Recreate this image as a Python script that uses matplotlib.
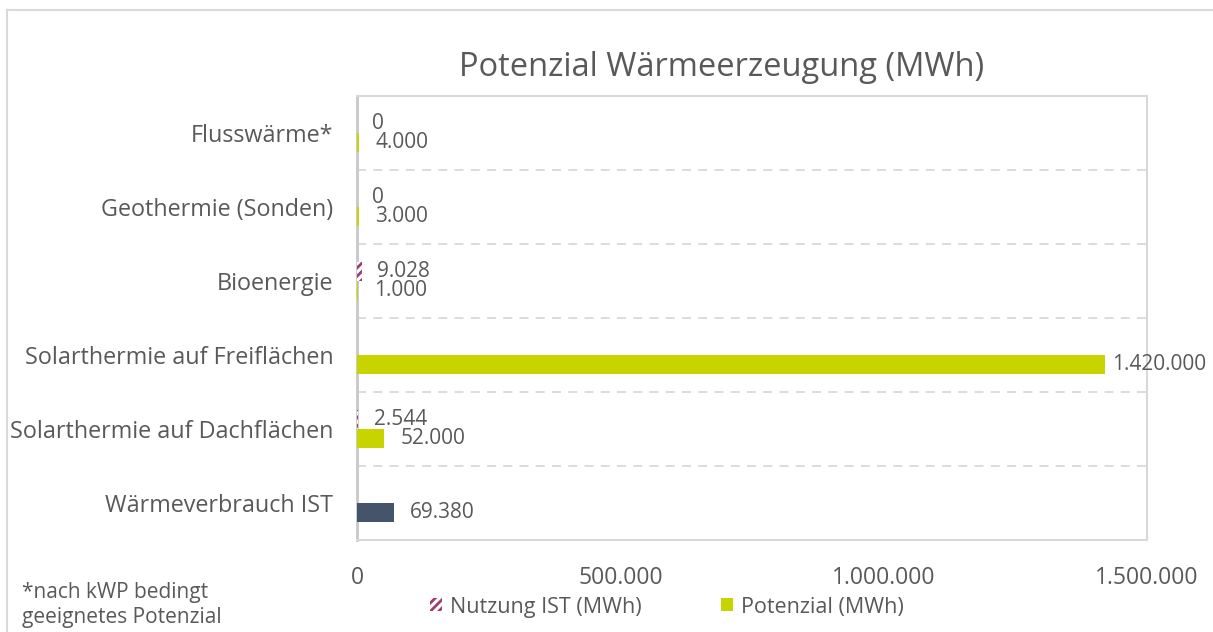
import numpy as np
import matplotlib
matplotlib.use("Agg")
import matplotlib.pyplot as plt
from matplotlib.patches import Patch
from matplotlib.lines import Line2D

plt.rcParams['font.family'] = ['Open Sans', 'DejaVu Sans']
plt.rcParams['hatch.linewidth'] = 2.0

# data (bottom to top)
categories = ["Wärmeverbrauch IST", "Solarthermie auf Dachflächen",
              "Solarthermie auf Freiflächen", "Bioenergie",
              "Geothermie (Sonden)", "Flusswärme*"]
nutzung = [np.nan, 2544, np.nan, 9028, 0, 0]
potenzial = [69380, 52000, 1420000, 1000, 3000, 4000]
xticks = [0, 500000, 1000000, 1500000]

green = '#C8D400'
navy = '#44546A'
purple = '#9E3D6F'
txt = '#595959'
grid = '#D9D9D9'


def fmt(v):
    return f"{v:,.0f}".replace(",", ".")


fig = plt.figure(figsize=(12.13, 6.32), dpi=100)
ax = fig.add_axes([357 / 1213, 92 / 632, 790 / 1213, 444 / 632])

y = np.arange(len(categories))
h = 0.26
off = 0.13

pot_colors = [navy] + [green] * (len(categories) - 1)
ax.barh(y - off, potenzial, height=h, color=pot_colors, zorder=3)
nz = np.nan_to_num(nutzung)
ax.barh(y + off, nz, height=h, color='white', edgecolor=purple,
        hatch='////', linewidth=0, zorder=3)

# data labels
lab_fs = 15
for yi, v in zip(y, potenzial):
    dx = 5 if v > 1e6 else 12
    ax.annotate(fmt(v), (v, yi - off), xytext=(dx, 0), textcoords='offset points',
                va='center', ha='left', fontsize=lab_fs, color=txt)
for yi, v in zip(y, nutzung):
    if np.isnan(v):
        continue
    ax.annotate(fmt(v), (v, yi + off), xytext=(11, 0), textcoords='offset points',
                va='center', ha='left', fontsize=lab_fs, color=txt)

ax.set_xlim(0, 1500000)
ax.set_ylim(-0.5, len(categories) - 0.5)
ax.set_yticks(y)
ax.set_yticklabels(categories, fontsize=16.8, color=txt)
ax.set_xticks(xticks)
ax.set_xticklabels([fmt(t) for t in xticks], fontsize=16.5, color=txt)
ax.tick_params(axis='both', length=0)
ax.tick_params(axis='y', pad=17)
ax.tick_params(axis='x', pad=19)

for b in np.arange(0.5, len(categories) - 0.5, 1):
    ax.axhline(b, color=grid, lw=1.3, ls=(0, (5, 4)), zorder=1)

for side in ['top', 'right', 'bottom']:
    ax.spines[side].set_color(grid)
    ax.spines[side].set_linewidth(1.5)
ax.spines['left'].set_color('#C8C8C8')
ax.spines['left'].set_linewidth(2)

fig.text(722 / 1213, 1 - 68 / 632, "Potenzial Wärmeerzeugung (MWh)",
         ha='center', va='center', fontsize=23.5, color=txt)

handles = [Patch(facecolor='white', edgecolor=purple, hatch='////', linewidth=0),
           Patch(facecolor=green)]
fig.legend(handles, ["Nutzung IST (MWh)", "Potenzial (MWh)"],
           loc='center', bbox_to_anchor=(667 / 1213, 1 - 607 / 632), ncol=2,
           frameon=False, fontsize=15.5, labelcolor=txt, handlelength=0.55,
           handleheight=0.55, handletextpad=0.37, columnspacing=3.7)

fig.text(22 / 1213, 1 - 605 / 632, "*nach kWP bedingt\ngeeignetes Potenzial",
         ha='left', va='center', fontsize=15, color=txt, linespacing=1.3)

# chart area border (top and left)
fig.add_artist(Line2D([7 / 1213, 1], [1 - 10 / 632, 1 - 10 / 632],
                      color=grid, lw=1.5, transform=fig.transFigure))
fig.add_artist(Line2D([7 / 1213, 7 / 1213], [0, 1 - 10 / 632],
                      color=grid, lw=1.5, transform=fig.transFigure))

fig.savefig("out.png", dpi=100)
